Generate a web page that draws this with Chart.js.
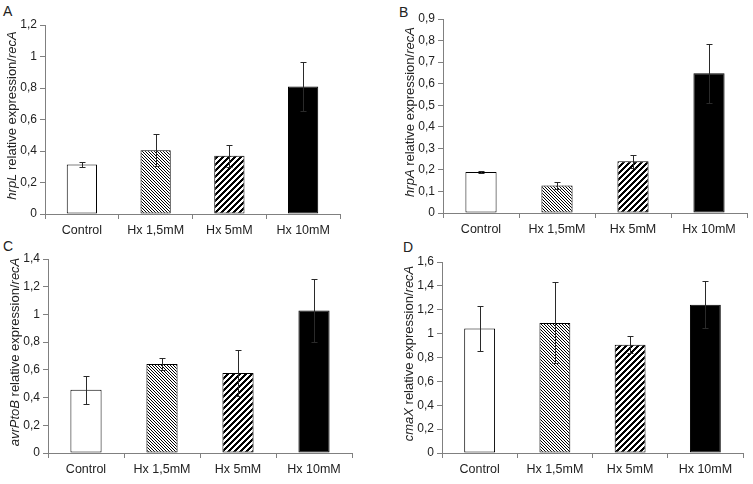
<!DOCTYPE html>
<html>
<head>
<meta charset="utf-8">
<script src="https://cdn.jsdelivr.net/npm/chart.js@4.4.1/dist/chart.umd.min.js"></script>
<style>
  body { margin: 0; background: #fff; width: 753px; height: 484px; position: relative; overflow: hidden;
         font-family: 'Liberation Sans', Arial, sans-serif; }
  canvas { position: absolute; }
  .letter { position: absolute; font-size: 14px; line-height: 14px; color: #222; }
</style>
</head>
<body>
<div class="letter" style="left:3px;top:4px">A</div>
<div class="letter" style="left:399px;top:5px">B</div>
<div class="letter" style="left:3px;top:239px">C</div>
<div class="letter" style="left:403px;top:240px">D</div>
<canvas id="chartA" width="376" height="240" style="left:0;top:0"></canvas>
<canvas id="chartB" width="377" height="240" style="left:376px;top:0"></canvas>
<canvas id="chartC" width="376" height="244" style="left:0;top:240px"></canvas>
<canvas id="chartD" width="377" height="244" style="left:376px;top:240px"></canvas>
<script>
// Data
const categories = ['Control', 'Hx 1,5mM', 'Hx 5mM', 'Hx 10mM'];

const hrpL = [0.315, 0.405, 0.37, 0.81];
const hrpLErr = [0.015, 0.10, 0.07, 0.155];
const hrpA = [0.19, 0.128, 0.24, 0.648];
const hrpAErr = [0.003, 0.018, 0.03, 0.137];
const avrPtoB = [0.457, 0.643, 0.577, 1.028];
const avrPtoBErr = [0.10, 0.042, 0.165, 0.23];
const cmaX = [1.043, 1.09, 0.907, 1.242];
const cmaXErr = [0.185, 0.34, 0.07, 0.195];

const ticksA = ['0', '0,2', '0,4', '0,6', '0,8', '1', '1,2'];
const ticksB = ['0', '0,1', '0,2', '0,3', '0,4', '0,5', '0,6', '0,7', '0,8', '0,9'];
const ticksC = ['0', '0,2', '0,4', '0,6', '0,8', '1', '1,2', '1,4'];
const ticksD = ['0', '0,2', '0,4', '0,6', '0,8', '1', '1,2', '1,4', '1,6'];

const FONT = "'Liberation Sans', Arial, sans-serif";
const AXIS = '#808080';
const TEXT = '#222';

// Hatch fills
function hatch(size, test) {
  const c = document.createElement('canvas');
  c.width = c.height = size;
  const g = c.getContext('2d');
  const img = g.createImageData(size, size);
  for (let y = 0; y < size; y++) {
    for (let x = 0; x < size; x++) {
      const k = (y * size + x) * 4;
      const v = test(x, y) ? 0 : 255;
      img.data[k] = img.data[k + 1] = img.data[k + 2] = v;
      img.data[k + 3] = 255;
    }
  }
  g.putImageData(img, 0, 0);
  return g.createPattern(c, 'repeat');
}
const thinHatch = hatch(3, (x, y) => (x - y + 3) % 3 === 0);
const thickHatch = hatch(6, (x, y) => (x + y) % 6 < 3);
const fills = ['#ffffff', thinHatch, thickHatch, '#000000'];

// Plugins
const errorBars = {
  id: 'errorBars',
  afterDatasetsDraw(chart, args, opts) {
    const ctx = chart.ctx, ys = chart.scales.y;
    const vals = chart.data.datasets[0].data;
    ctx.save();
    ctx.strokeStyle = '#2a2a2a';
    ctx.lineWidth = 1;
    chart.getDatasetMeta(0).data.forEach((bar, i) => {
      const x = Math.round(bar.x) + 0.5;
      const top = Math.round(ys.getPixelForValue(vals[i] + opts.errors[i])) + 0.5;
      const bot = Math.round(ys.getPixelForValue(vals[i] - opts.errors[i])) + 0.5;
      ctx.beginPath();
      ctx.moveTo(x, top); ctx.lineTo(x, bot);
      ctx.moveTo(x - 3, top); ctx.lineTo(x + 3, top);
      ctx.moveTo(x - 3, bot); ctx.lineTo(x + 3, bot);
      ctx.stroke();
    });
    ctx.restore();
  }
};

const yTitle = {
  id: 'yTitle',
  afterDraw(chart, args, opts) {
    const ctx = chart.ctx, ca = chart.chartArea;
    const parts = [[opts.gene, true], [' relative expression/', false], ['recA', true]];
    const font = it => (it ? 'italic ' : '') + '13px ' + FONT;
    let total = 0;
    parts.forEach(p => { ctx.font = font(p[1]); total += ctx.measureText(p[0]).width; });
    ctx.save();
    ctx.translate(ca.left - 33, (ca.top + ca.bottom) / 2 - 4);
    ctx.rotate(-Math.PI / 2);
    ctx.fillStyle = TEXT;
    ctx.textBaseline = 'middle';
    let x = -total / 2;
    parts.forEach(p => {
      ctx.font = font(p[1]);
      ctx.fillText(p[0], x, 0);
      x += ctx.measureText(p[0]).width;
    });
    ctx.restore();
  }
};

function makeChart(id, values, errors, gene, max, step, tickLabels, box) {
  return new Chart(document.getElementById(id), {
    type: 'bar',
    data: {
      labels: categories,
      datasets: [{
        data: values,
        backgroundColor: fills,
        borderColor: '#000',
        borderWidth: 1,
        borderSkipped: false,
        barPercentage: 0.41,
        categoryPercentage: 1
      }]
    },
    options: {
      responsive: false,
      animation: false,
      devicePixelRatio: 1,
      layout: { padding: { left: 0, top: box.top, right: box.right, bottom: 0 } },
      plugins: {
        legend: { display: false },
        tooltip: { enabled: false },
        errorBars: { errors },
        yTitle: { gene }
      },
      scales: {
        x: {
          afterFit: s => { s.height = box.below; },
          grid: { display: true, drawOnChartArea: false, drawTicks: true, tickLength: 5, color: AXIS, offset: true },
          border: { display: true, color: AXIS },
          ticks: { color: TEXT, padding: 4, font: { family: FONT, size: 12.5 }, maxRotation: 0 }
        },
        y: {
          min: 0,
          max,
          afterFit: s => { s.width = box.left; },
          grid: { display: true, drawOnChartArea: false, drawTicks: true, tickLength: 5, color: AXIS },
          border: { display: true, color: AXIS },
          ticks: {
            stepSize: step,
            color: TEXT,
            padding: 3,
            font: { family: FONT, size: 12 },
            callback: (v, i) => tickLabels[i]
          }
        }
      }
    },
    plugins: [errorBars, yTitle]
  });
}

makeChart('chartA', hrpL, hrpLErr, 'hrpL', 1.2, 0.2, ticksA, { left: 45, top: 25, right: 36, below: 26 });
makeChart('chartB', hrpA, hrpAErr, 'hrpA', 0.9, 0.1, ticksB, { left: 67, top: 19, right: 6, below: 27 });
makeChart('chartC', avrPtoB, avrPtoBErr, 'avrPtoB', 1.4, 0.2, ticksC, { left: 48, top: 19, right: 24, below: 31 });
makeChart('chartD', cmaX, cmaXErr, 'cmaX', 1.6, 0.2, ticksD, { left: 66, top: 22, right: 10, below: 31 });
</script>
</body>
</html>
